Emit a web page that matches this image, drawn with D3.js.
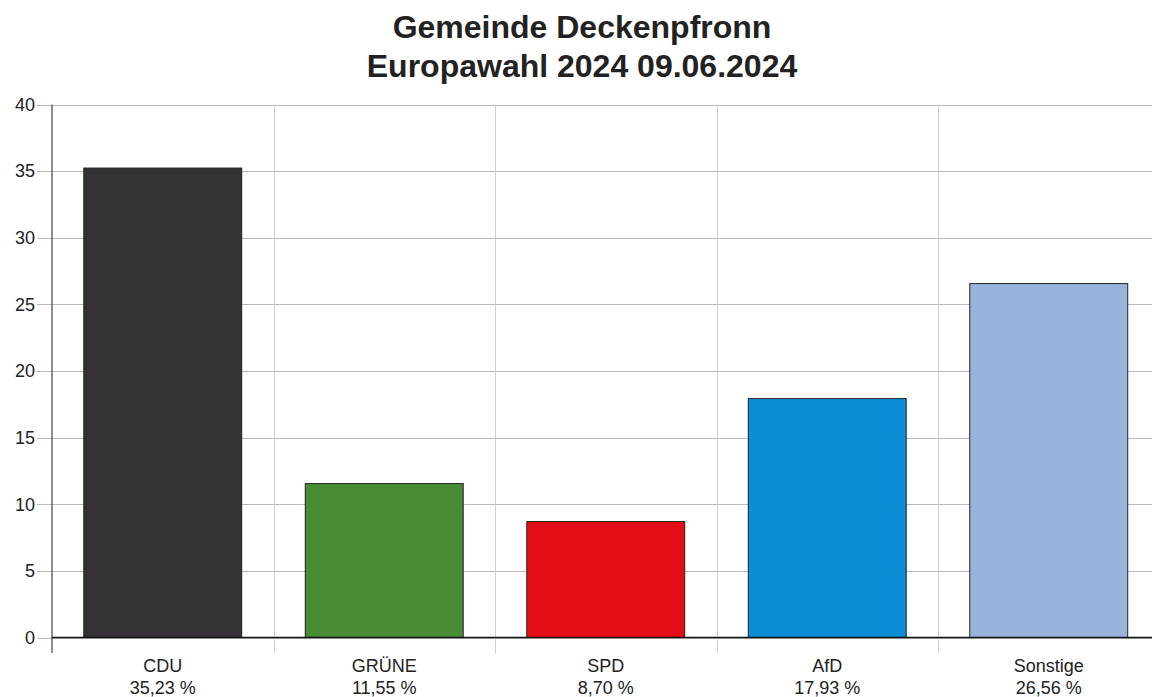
<!DOCTYPE html>
<html>
<head>
<meta charset="utf-8">
<script src="https://cdn.jsdelivr.net/npm/d3@7"></script>
<style>
  body { margin: 0; background: #fff; }
  svg { display: block; font-family: Arial, "Liberation Sans", sans-serif; }
</style>
</head>
<body>
<div id="chart"></div>
<script>
// Daten
const parteien = ["CDU", "GRÜNE", "SPD", "AfD", "Sonstige"];
const anteile = [35.23, 11.55, 8.70, 17.93, 26.56];
const farben = ["#343036", "#488c33", "#e20d17", "#0c8ed6", "#98b4dc"];
const yTicks = [0, 5, 10, 15, 20, 25, 30, 35, 40];
const titel = ["Gemeinde Deckenpfronn", "Europawahl 2024 09.06.2024"];

const width = 1152, height = 697;
const plotLeft = 52, plotRight = 1159.5, plotTop = 104.5, plotBottom = 637.5;

const svg = d3.select("#chart").append("svg")
    .attr("width", width)
    .attr("height", height);

svg.append("rect").attr("width", width).attr("height", height).attr("fill", "#fff");

const x = d3.scaleBand()
    .domain(parteien)
    .range([plotLeft, plotRight])
    .paddingInner(0.287)
    .paddingOuter(0.1435);

const y = d3.scaleLinear()
    .domain([0, 40])
    .range([plotBottom, plotTop]);

const halbLuecke = (x.step() - x.bandwidth()) / 2;

// horizontale Gitterlinien
svg.append("g")
    .selectAll("line")
    .data(yTicks)
    .join("line")
    .attr("x1", 37)
    .attr("x2", width)
    .attr("y1", d => Math.round(y(d)) + 0.5)
    .attr("y2", d => Math.round(y(d)) + 0.5)
    .attr("stroke", "#b8b8b8")
    .attr("stroke-width", 1);

// vertikale Gitterlinien an den Kategoriegrenzen
const grenzen = parteien.map(p => x(p) - halbLuecke).concat([plotRight]);
svg.append("g")
    .selectAll("line")
    .data(grenzen.slice(1))
    .join("line")
    .attr("x1", d => Math.round(d) + 0.5)
    .attr("x2", d => Math.round(d) + 0.5)
    .attr("y1", plotTop)
    .attr("y2", 653)
    .attr("stroke", "#cfcfcf")
    .attr("stroke-width", 1);

// y-Achse
svg.append("line")
    .attr("x1", plotLeft).attr("x2", plotLeft)
    .attr("y1", plotTop).attr("y2", 653)
    .attr("stroke", "#666")
    .attr("stroke-width", 1.5);

const yAxis = svg.append("g")
    .attr("transform", `translate(${plotLeft},0)`)
    .call(d3.axisLeft(y).tickValues(yTicks).tickSize(0).tickPadding(17));
yAxis.select(".domain").remove();
yAxis.selectAll("text")
    .attr("font-size", 18)
    .attr("font-family", "Arial, 'Liberation Sans', sans-serif")
    .attr("fill", "#222");

// Balken
svg.append("g")
    .selectAll("rect")
    .data(parteien)
    .join("rect")
    .attr("x", d => x(d))
    .attr("width", x.bandwidth())
    .attr("y", (d, i) => y(anteile[i]))
    .attr("height", (d, i) => y(0) - y(anteile[i]))
    .attr("fill", (d, i) => farben[i])
    .attr("stroke", "#222")
    .attr("stroke-width", 1);

// x-Achse (Nulllinie)
svg.append("line")
    .attr("x1", plotLeft).attr("x2", width)
    .attr("y1", y(0)).attr("y2", y(0))
    .attr("stroke", "#111")
    .attr("stroke-width", 1.5);

// Beschriftungen unter den Balken
const labels = svg.append("g")
    .selectAll("text")
    .data(parteien)
    .join("text")
    .attr("text-anchor", "middle")
    .attr("font-size", 18)
    .attr("fill", "#222");

labels.append("tspan")
    .attr("x", d => x(d) + x.bandwidth() / 2)
    .attr("y", 672)
    .text(d => d);

labels.append("tspan")
    .attr("x", d => x(d) + x.bandwidth() / 2)
    .attr("y", 694)
    .text((d, i) => anteile[i].toFixed(2).replace(".", ",") + " %");

// Titel
svg.append("g")
    .selectAll("text")
    .data(titel)
    .join("text")
    .attr("x", 582)
    .attr("y", (d, i) => 38 + i * 39)
    .attr("text-anchor", "middle")
    .attr("font-size", 32)
    .attr("font-weight", "bold")
    .attr("fill", "#222")
    .text(d => d);
</script>
</body>
</html>
